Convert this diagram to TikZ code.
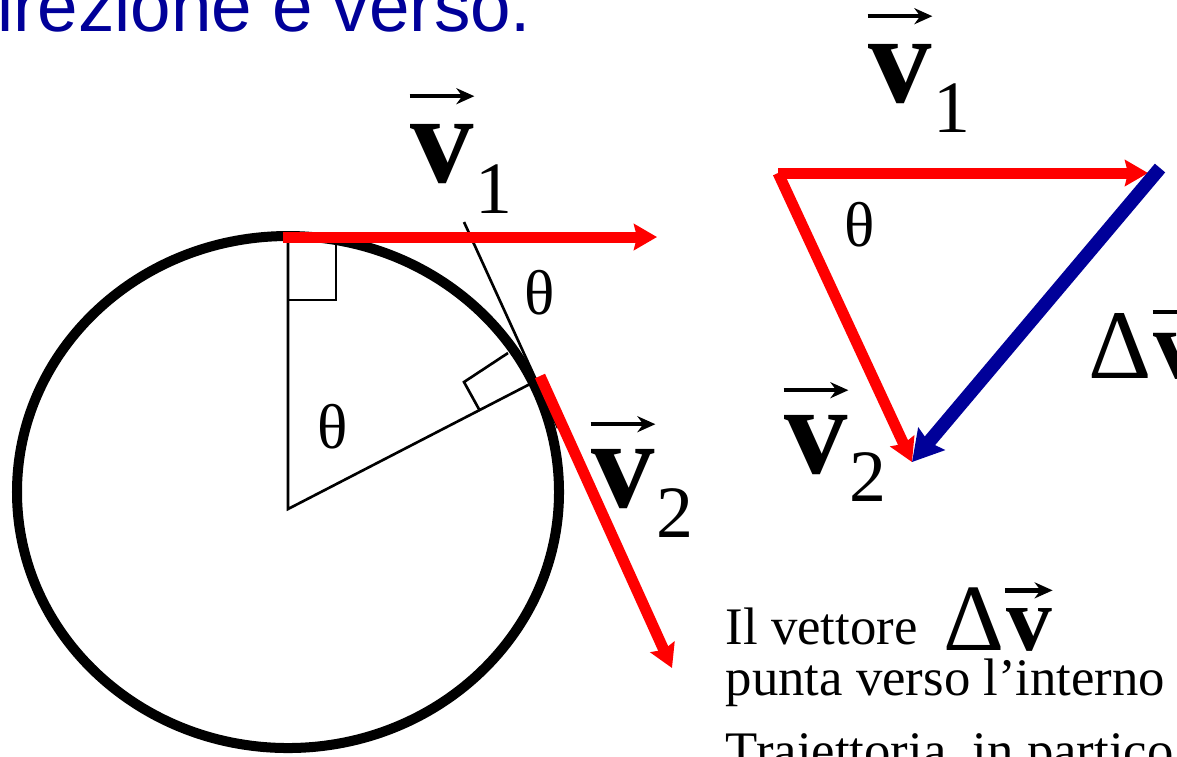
\documentclass[tikz,border=0pt]{standalone}
\usepackage{fontspec}
\setmainfont{Liberation Serif}
\newfontfamily\headfont{Liberation Sans}
\usetikzlibrary{arrows.meta}
\definecolor{navy}{RGB}{0,0,153}
\definecolor{vred}{RGB}{255,0,0}

\begin{document}
\begin{tikzpicture}[x=0.01cm, y=-0.01cm, >={Stealth[length=2.3mm,width=2.6mm,inset=0.3mm]}]
    \tikzset{vec/.style={draw=vred, line width=1.1mm, ->},
        dvec/.style={draw=navy, line width=1.35mm, -{Stealth[length=3mm,width=3.4mm,inset=0.4mm]}},
        guide/.style={line width=0.75pt},
        vlet/.style={inner sep=0pt, anchor=base, font=\fontsize{36}{36}\selectfont\bfseries},
        vsub/.style={inner sep=0pt, anchor=base west, font=\fontsize{21}{21}\selectfont},
        vbar/.style={line width=0.45mm, -{Stealth[length=1.8mm,width=1.6mm]}},
        ang/.style={inner sep=0pt, font=\fontsize{18}{18}\selectfont},
        body/.style={inner sep=0pt, anchor=base west, font=\fontsize{15}{15}\selectfont}}
    \useasboundingbox (0,0) rectangle (1177,756);
    \clip (0,0) rectangle (1177,756);
    % title, cut at the border
    \node[anchor=base east, inner sep=0pt, text=navy, font=\headfont\fontsize{20.7}{20.7}\selectfont] (title) at (532,31) {irezione e verso.};
    % circle and its radii
    \coordinate (O) at (288,492);
    \coordinate (C) at (288,509);
    \coordinate (T) at (288,237);
    \coordinate (P) at (530,384);
    \draw[line width=1mm] (O) ellipse[x radius=271, y radius=256];
    \draw[guide] (T) -- (C) -- (P);
    \draw[guide] (288,300) -| (336,237);
    \draw[guide] (480,411) -- (464,382) -- (508,353);
    \coordinate (tanA) at (464,222);
    \coordinate (tanB) at (558,428);
    \draw[guide] (tanA) -- (tanB);
    \coordinate (v1a) at (283,237);
    \coordinate (v1b) at (657,237);
    \coordinate (v2a) at (540,376);
    \coordinate (v2b) at (672,668);
    \draw[vec] (v1a) -- (v1b);
    \draw[vec] (v2a) -- (v2b);
    \node[ang] (thTop) at (540,293) {θ};
    \node[ang] (thIn) at (333,427) {θ};
    % labels on the circle
    \node[vlet] (vL1) at (442,182) {v};
    \node[vsub] (sL1) at ([yshift=-0.31cm]vL1.base east) {1};
    \draw[vbar] ([yshift=0.27cm]vL1.north west) -- ([yshift=0.27cm]vL1.north east);
    \node[vlet] (vL2) at (623,507) {v};
    \node[vsub] (sL2) at ([yshift=-0.3cm]vL2.base east) {2};
    \draw[vbar] ([yshift=0.24cm]vL2.north west) -- ([yshift=0.24cm]vL2.north east);
    % triangle of velocities
    \coordinate (A) at (778,173);
    \coordinate (B) at (1148,173);
    \coordinate (D) at (912,462);
    \coordinate (E) at (1160,168);
    \draw[vec] (A) -- (B);
    \draw[vec] (A) -- (D);
    \draw[dvec] (E) -- (D);
    \node[ang] (thTri) at (860,225) {θ};
    \node[vlet] (vR1) at (900,102) {v};
    \node[vsub] (sR1) at ([yshift=-0.3cm]vR1.base east) {1};
    \draw[vbar] ([yshift=0.27cm]vR1.north west) -- ([yshift=0.27cm]vR1.north east);
    \node[vlet] (vR2) at (816,473) {v};
    \node[vsub] (sR2) at ([yshift=-0.28cm]vR2.base east) {2};
    \draw[vbar] ([yshift=0.24cm]vR2.north west) -- ([yshift=0.24cm]vR2.north east);
    \node[inner sep=0pt, anchor=base west, font=\fontsize{28}{28}\selectfont] (dR) at (1088,378) {Δ};
    \node[inner sep=0pt, anchor=base west, font=\fontsize{28}{28}\selectfont\bfseries] (dvR) at (dR.base east) {v};
    \draw[vbar] ([yshift=0.2cm]dvR.north west) -- ([yshift=0.2cm]dvR.north east);
    % text below
    \node[body] (line1) at (725,644) {Il vettore};
    \node[inner sep=0pt, anchor=base west, font=\fontsize{27}{27}\selectfont] (dB) at (943,650) {Δ};
    \node[inner sep=0pt, anchor=base west, font=\fontsize{26}{26}\selectfont\bfseries] (dvB) at (dB.base east) {v};
    \draw[vbar] ([yshift=0.17cm]dvB.north west) -- ([yshift=0.17cm]dvB.north east);
    \node[body] (line2) at (725,695) {punta verso l’interno};
    \node[body] (line3) at (725,768) {Traiettoria, in partico};
\end{tikzpicture}
\end{document}
